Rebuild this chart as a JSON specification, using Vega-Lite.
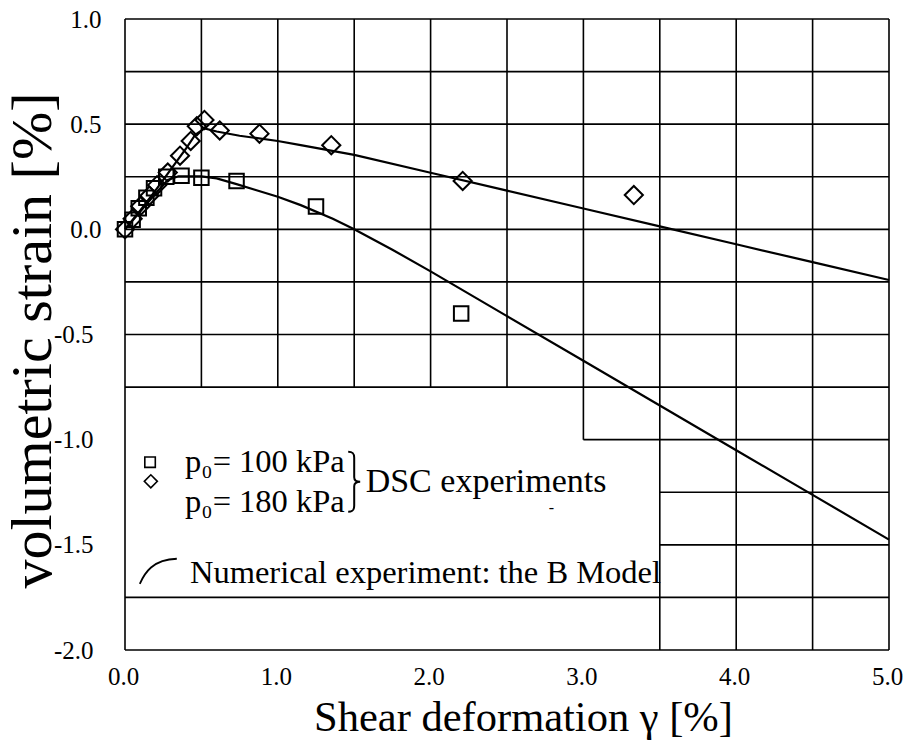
{
  "$schema": "https://vega.github.io/schema/vega-lite/v6.json",
  "width": 764,
  "height": 631,
  "autosize": "none",
  "padding": {"left": 125, "top": 19, "right": 16, "bottom": 93},
  "background": "white",
  "config": {
    "view": {"stroke": null},
    "font": "Liberation Serif",
    "axis": {"labelFont": "Liberation Serif", "titleFont": "Liberation Serif", "labelColor": "black", "titleColor": "black"}
  },
  "datasets": {
    "hlines": [
      {"y": 1, "x1": 0, "x2": 5}, {"y": 0.75, "x1": 0, "x2": 5}, {"y": 0.5, "x1": 0, "x2": 5},
      {"y": 0.25, "x1": 0, "x2": 5}, {"y": 0, "x1": 0, "x2": 5}, {"y": -0.25, "x1": 0, "x2": 5},
      {"y": -0.5, "x1": 0, "x2": 5}, {"y": -0.75, "x1": 0, "x2": 5}, {"y": -1, "x1": 3, "x2": 5},
      {"y": -1.25, "x1": 3.5, "x2": 5}, {"y": -1.5, "x1": 3.5, "x2": 5}, {"y": -1.75, "x1": 0, "x2": 5},
      {"y": -2, "x1": 0, "x2": 5}
    ],
    "vlines": [
      {"x": 0, "y1": -2, "y2": 1}, {"x": 0.5, "y1": -0.75, "y2": 1}, {"x": 1, "y1": -0.75, "y2": 1},
      {"x": 1.5, "y1": -0.75, "y2": 1}, {"x": 2, "y1": -0.75, "y2": 1}, {"x": 2.5, "y1": -0.75, "y2": 1},
      {"x": 3, "y1": -1, "y2": 1}, {"x": 3.5, "y1": -2, "y2": 1}, {"x": 4, "y1": -2, "y2": 1},
      {"x": 4.5, "y1": -2, "y2": 1}, {"x": 5, "y1": -2, "y2": 1}
    ],
    "curves": [
      {"series": "100", "x": 0, "y": 0}, {"series": "100", "x": 0.1, "y": 0.085}, {"series": "100", "x": 0.2, "y": 0.17},
      {"series": "100", "x": 0.28, "y": 0.235}, {"series": "100", "x": 0.35, "y": 0.252}, {"series": "100", "x": 0.5, "y": 0.252},
      {"series": "100", "x": 0.6, "y": 0.242}, {"series": "100", "x": 0.73, "y": 0.215}, {"series": "100", "x": 0.85, "y": 0.188},
      {"series": "100", "x": 1.0, "y": 0.155}, {"series": "100", "x": 1.15, "y": 0.115}, {"series": "100", "x": 1.36, "y": 0.05},
      {"series": "100", "x": 1.5, "y": 0.0}, {"series": "100", "x": 1.75, "y": -0.097}, {"series": "100", "x": 2.0, "y": -0.2},
      {"series": "100", "x": 2.5, "y": -0.4125}, {"series": "100", "x": 3.0, "y": -0.625}, {"series": "100", "x": 3.5, "y": -0.8375},
      {"series": "100", "x": 4.0, "y": -1.05}, {"series": "100", "x": 4.5, "y": -1.2625}, {"series": "100", "x": 5.0, "y": -1.475},
      {"series": "180", "x": 0, "y": 0}, {"series": "180", "x": 0.1, "y": 0.09}, {"series": "180", "x": 0.2, "y": 0.185},
      {"series": "180", "x": 0.3, "y": 0.285}, {"series": "180", "x": 0.4, "y": 0.385}, {"series": "180", "x": 0.46, "y": 0.45},
      {"series": "180", "x": 0.52, "y": 0.48}, {"series": "180", "x": 0.6, "y": 0.465}, {"series": "180", "x": 0.75, "y": 0.445},
      {"series": "180", "x": 1.0, "y": 0.42}, {"series": "180", "x": 1.15, "y": 0.4}, {"series": "180", "x": 1.5, "y": 0.354},
      {"series": "180", "x": 2.0, "y": 0.269}, {"series": "180", "x": 2.5, "y": 0.184}, {"series": "180", "x": 3.0, "y": 0.099},
      {"series": "180", "x": 3.5, "y": 0.014}, {"series": "180", "x": 4.0, "y": -0.071}, {"series": "180", "x": 4.5, "y": -0.156},
      {"series": "180", "x": 5.0, "y": -0.241}
    ],
    "points": [
      {"series": "100", "x": 0, "y": 0}, {"series": "100", "x": 0.05, "y": 0.045}, {"series": "100", "x": 0.09, "y": 0.1},
      {"series": "100", "x": 0.14, "y": 0.15}, {"series": "100", "x": 0.19, "y": 0.195}, {"series": "100", "x": 0.27, "y": 0.25},
      {"series": "100", "x": 0.37, "y": 0.255}, {"series": "100", "x": 0.5, "y": 0.245}, {"series": "100", "x": 0.73, "y": 0.23},
      {"series": "100", "x": 1.25, "y": 0.108}, {"series": "100", "x": 2.2, "y": -0.4},
      {"series": "180", "x": 0, "y": 0}, {"series": "180", "x": 0.05, "y": 0.05}, {"series": "180", "x": 0.1, "y": 0.11},
      {"series": "180", "x": 0.16, "y": 0.16}, {"series": "180", "x": 0.21, "y": 0.21}, {"series": "180", "x": 0.28, "y": 0.27},
      {"series": "180", "x": 0.36, "y": 0.35}, {"series": "180", "x": 0.43, "y": 0.42}, {"series": "180", "x": 0.47, "y": 0.49},
      {"series": "180", "x": 0.52, "y": 0.52}, {"series": "180", "x": 0.62, "y": 0.47}, {"series": "180", "x": 0.88, "y": 0.455},
      {"series": "180", "x": 1.35, "y": 0.4}, {"series": "180", "x": 2.21, "y": 0.23}, {"series": "180", "x": 3.33, "y": 0.163}
    ],
    "labels": [
      {"x": 0.393, "y": -1.154, "label": "p₀= 100 kPa"},
      {"x": 0.393, "y": -1.345, "label": "p₀= 180 kPa"},
      {"x": 0.425, "y": -1.683, "label": "Numerical experiment: the B Model"}
    ]
  },
  "encoding": {
    "x": {
      "type": "quantitative",
      "scale": {"domain": [0, 5], "nice": false, "zero": false},
      "axis": {
        "title": "Shear deformation γ [%]",
        "values": [0, 1, 2, 3, 4, 5], "format": ".1f",
        "labelFont": "Liberation Serif", "labelFontSize": 25, "labelColor": "black",
        "labelPadding": 14, "labelFlush": false, "labelOffset": -2,
        "ticks": false, "domain": false, "grid": false,
        "titleFont": "Liberation Serif", "titleFontSize": 42.5, "titleFontWeight": "normal", "titleColor": "black",
        "titleX": 398, "titleY": 80, "titleBaseline": "alphabetic", "titleAlign": "center"
      }
    },
    "y": {
      "type": "quantitative",
      "scale": {"domain": [-2, 1], "nice": false, "zero": false},
      "axis": {
        "title": "volumetric strain [%]",
        "values": [-2, -1.5, -1, -0.5, 0, 0.5, 1],
        "labelExpr": "datum.value < 0 ? '-' + format(-datum.value, '.1f') : format(datum.value, '.1f')",
        "labelFont": "Liberation Serif", "labelFontSize": 25, "labelColor": "black",
        "labelPadding": {"condition": {"test": "datum.value < 0", "value": 32}, "value": 24},
        "labelFlush": false, "labelBaseline": "middle",
        "ticks": false, "domain": false, "grid": false,
        "titleFont": "Liberation Serif", "titleFontSize": 58, "titleFontWeight": "normal", "titleColor": "black",
        "titleAngle": -90, "titleX": -75, "titleY": 321, "titleBaseline": "alphabetic", "titleAlign": "center"
      }
    }
  },
  "layer": [
    {
      "data": {"name": "hlines"},
      "mark": {"type": "rule", "stroke": "black", "strokeWidth": 1.6},
      "encoding": {"x": {"field": "x1"}, "x2": {"field": "x2"}, "y": {"field": "y"}}
    },
    {
      "data": {"name": "vlines"},
      "mark": {"type": "rule", "stroke": "black", "strokeWidth": 1.6},
      "encoding": {"x": {"field": "x"}, "y": {"field": "y1"}, "y2": {"field": "y2"}}
    },
    {
      "data": {"name": "curves"},
      "mark": {"type": "line", "stroke": "black", "strokeWidth": 2.2},
      "encoding": {"x": {"field": "x"}, "y": {"field": "y"}, "detail": {"field": "series", "type": "nominal"}}
    },
    {
      "data": {"name": "points"},
      "transform": [{"filter": "datum.series == '100'"}],
      "mark": {"type": "point", "shape": "square", "filled": false, "stroke": "black", "strokeWidth": 2, "size": 210, "opacity": 1},
      "encoding": {"x": {"field": "x"}, "y": {"field": "y"}}
    },
    {
      "data": {"name": "points"},
      "transform": [{"filter": "datum.series == '180'"}],
      "mark": {"type": "point", "shape": "diamond", "filled": false, "stroke": "black", "strokeWidth": 2, "size": 330, "opacity": 1},
      "encoding": {"x": {"field": "x"}, "y": {"field": "y"}}
    },
    {
      "data": {"values": [{}]},
      "mark": {"type": "point", "shape": "square", "filled": false, "stroke": "black", "strokeWidth": 1.6, "size": 110, "opacity": 1},
      "encoding": {"x": {"datum": 0.164}, "y": {"datum": -1.107}}
    },
    {
      "data": {"values": [{}]},
      "mark": {"type": "point", "shape": "diamond", "filled": false, "stroke": "black", "strokeWidth": 1.6, "size": 170, "opacity": 1},
      "encoding": {"x": {"datum": 0.169}, "y": {"datum": -1.198}}
    },
    {
      "data": {"values": [{}]},
      "mark": {"type": "point", "shape": "M -0.2 -1 C -0.05 -1 0 -0.95 0 -0.8 L 0 -0.15 C 0 -0.05 0.05 0 0.2 0 C 0.05 0 0 0.05 0 0.15 L 0 0.8 C 0 0.95 -0.05 1 -0.2 1", "filled": false, "stroke": "black", "strokeWidth": 2, "size": 3600, "opacity": 1},
      "encoding": {"x": {"datum": 1.5}, "y": {"datum": -1.2}}
    },
    {
      "data": {"values": [{}]},
      "mark": {"type": "point", "shape": "M -1 0.68 C -0.75 0.1 -0.3 -0.65 1 -0.68", "filled": false, "stroke": "black", "strokeWidth": 1.8, "size": 1369, "opacity": 1},
      "encoding": {"x": {"datum": 0.218}, "y": {"datum": -1.626}}
    },
    {
      "data": {"name": "labels"},
      "mark": {"type": "text", "align": "left", "baseline": "alphabetic", "font": "Liberation Serif", "fontSize": 32.5, "color": "black"},
      "encoding": {"x": {"field": "x"}, "y": {"field": "y"}, "text": {"field": "label"}}
    },
    {
      "data": {"values": [{}]},
      "mark": {"type": "text", "text": "DSC experiments", "align": "left", "baseline": "alphabetic", "font": "Liberation Serif", "fontSize": 34, "color": "black"},
      "encoding": {"x": {"datum": 1.575}, "y": {"datum": -1.25}}
    },
    {
      "data": {"values": [{}]},
      "mark": {"type": "text", "text": "-", "font": "Liberation Serif", "fontSize": 16, "color": "black"},
      "encoding": {"x": {"datum": 2.79}, "y": {"datum": -1.327}}
    }
  ]
}
